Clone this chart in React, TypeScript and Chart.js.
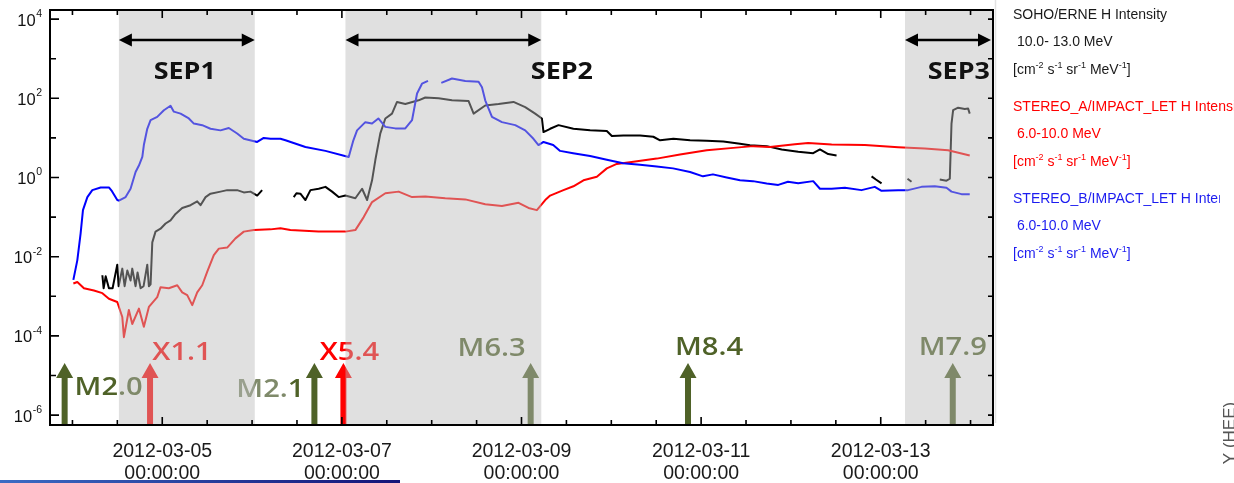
import React, { useEffect, useRef } from 'react';
import { Chart, registerables } from 'chart.js';

Chart.register(...registerables);

// Time axis in days since 2012-03-03 00:00 UT
const X_MIN = 0.75;
const X_MAX = 11.25;
const dateTickDays = [2, 4, 6, 8, 10];
const dateTickLabels = ['2012-03-05', '2012-03-07', '2012-03-09', '2012-03-11', '2012-03-13'];
const timeTickLabel = '00:00:00';
const minorTickDays = [1, 1.5, 2, 2.5, 3, 3.5, 4, 4.5, 5, 5.5, 6, 6.5, 7, 7.5, 8, 8.5, 9, 9.5, 10, 10.5, 11];
const yExponents = [-6, -4, -2, 0, 2, 4];
const yDecades = [-6, -5, -4, -3, -2, -1, 0, 1, 2, 3, 4];

// SOHO/ERNE H 10.0-13.0 MeV (null = data gap)
const sohoDays = [
  1.333, 1.347, 1.370, 1.406, 1.447, 1.499, 1.514, 1.555, 1.581, 1.611, 1.647, 1.666, 1.703, 1.725, 1.759, 1.792,
  1.833, 1.851, 1.870, 1.889, 1.925, 1.981, 2.037, 2.092, 2.148, 2.222, 2.315, 2.389, 2.426, 2.482, 2.537, 2.649,
  2.723, 2.834, 2.908, 2.982, 3.057, 3.112,
  3.29,
  3.464, 3.494, 3.538, 3.594, 3.650, 3.742, 3.817, 3.891, 3.964, 4.039, 4.150, 4.225, 4.281, 4.336, 4.373, 4.428,
  4.484, 4.558, 4.614, 4.706, 4.854, 4.929, 5.077, 5.226, 5.411, 5.467, 5.596, 5.744, 5.911, 6.041, 6.152, 6.227,
  6.245, 6.319, 6.412, 6.578, 6.764, 6.950, 7.006, 7.135, 7.320, 7.468, 7.543, 7.691, 7.877, 8.062, 8.247, 8.433,
  8.544, 8.730, 8.897, 9.081, 9.248, 9.323, 9.415, 9.508,
  9.7,
  9.898, 9.946, 10.009,
  10.15,
  10.298, 10.343,
  10.5,
  10.657, 10.732, 10.769, 10.788, 10.806, 10.862, 10.936, 10.973, 10.991,
];
const sohoFlux = [
  3.4e-3, 1.6e-3, 3.2e-3, 1.6e-3, 1.6e-3, 6.3e-3, 1.8e-3, 5e-3, 1.8e-3, 4.5e-3, 2.5e-3, 5e-3, 1.8e-3, 4e-3, 1.6e-3, 1.8e-3,
  6.3e-3, 1.8e-3, 2.0e-3, 2.3e-2, 4.3e-2, 5.1e-2, 6.9e-2, 8.3e-2, 0.12, 0.17, 0.20, 0.25, 0.20, 0.32, 0.39, 0.44,
  0.48, 0.48, 0.42, 0.44, 0.35, 0.48,
  null,
  0.32, 0.40, 0.39, 0.27, 0.48, 0.52, 0.58, 0.44, 0.32, 0.35, 0.30, 0.52, 0.27, 0.85, 2.8, 13,
  31, 41, 81, 72, 89, 105, 100, 89, 85, 41, 66, 72, 81, 60, 41, 31,
  14, 17, 21, 17, 15.5, 15, 11.2, 11.5, 11.5, 10.7, 8.7, 9.5, 8.7, 8.5, 8.1, 7.1,
  6.5, 6.2, 5.1, 4.5, 4.1, 5.1, 3.9, 3.6,
  null,
  1.07, 0.89, 0.71,
  null,
  0.93, 0.78,
  null,
  0.89, 0.83, 0.93, 23, 50, 58, 54, 55, 41,
];

// STEREO-A/IMPACT LET H 6.0-10.0 MeV
const staDays = [
  1.010, 1.054, 1.128, 1.239, 1.333, 1.406, 1.499, 1.555, 1.573, 1.628, 1.666, 1.740, 1.795, 1.851, 1.944, 1.981,
  2.073, 2.167, 2.222, 2.278, 2.334, 2.389, 2.445, 2.501, 2.574, 2.630, 2.723, 2.815, 2.908, 3.019, 3.205, 3.316,
  3.427, 3.739, 4.039, 4.150, 4.243, 4.336, 4.484, 4.632, 4.781, 4.929, 5.151, 5.374, 5.596, 5.782, 5.967, 6.078,
  6.171, 6.264, 6.319, 6.467, 6.578, 6.690, 6.839, 6.950, 7.061, 7.246, 7.506, 7.765, 8.062, 8.358, 8.581, 8.766,
  9.044, 9.192, 9.453, 9.823, 10.194, 10.491, 10.750, 10.991,
];
const staFlux = [
  2.1e-3, 2.3e-3, 1.6e-3, 1.4e-3, 1.2e-3, 8.7e-4, 7.2e-4, 3.0e-4, 9.3e-5, 4.5e-4, 2.0e-4, 4.9e-4, 1.7e-4, 5.4e-4, 9.5e-4, 1.7e-3,
  1.6e-3, 1.9e-3, 1.26e-3, 1.07e-3, 6.0e-4, 1.26e-3, 1.9e-3, 4.2e-3, 1.1e-2, 1.6e-2, 1.7e-2, 2.9e-2, 4.3e-2, 4.7e-2, 4.9e-2, 5.2e-2,
  4.7e-2, 4.3e-2, 4.3e-2, 4.7e-2, 0.10, 0.24, 0.40, 0.44, 0.32, 0.33, 0.30, 0.28, 0.21, 0.19, 0.23, 0.17,
  0.15, 0.27, 0.35, 0.48, 0.60, 0.85, 1.05, 1.7, 2.2, 2.5, 3.0, 3.8, 4.9, 5.6, 6.2, 5.9,
  6.9, 7.4, 6.8, 6.6, 5.8, 5.4, 4.9, 3.6,
];

// STEREO-B/IMPACT LET H 6.0-10.0 MeV
const stbDays = [
  1.010, 1.054, 1.091, 1.117, 1.166, 1.221, 1.314, 1.406, 1.440, 1.499, 1.517, 1.592, 1.647, 1.703, 1.740, 1.778,
  1.795, 1.833, 1.870, 1.944, 2.018, 2.092, 2.129, 2.204, 2.296, 2.352, 2.445, 2.537, 2.649, 2.741, 2.834, 2.908,
  3.057, 3.130, 3.205, 3.316, 3.372, 3.594, 3.817, 4.076, 4.128, 4.169, 4.261, 4.336, 4.406, 4.484, 4.595, 4.706,
  4.781, 4.837, 4.892, 4.959, 5.03, 5.107, 5.226, 5.374, 5.522, 5.560, 5.596, 5.671, 5.782, 5.930, 6.041, 6.133,
  6.189, 6.245, 6.353, 6.430, 6.575, 6.764, 6.950, 7.131, 7.320, 7.506, 7.688, 7.877, 8.021, 8.132, 8.285, 8.433,
  8.577, 8.730, 8.859, 8.967, 9.081, 9.248, 9.323, 9.453, 9.601, 9.786, 9.934, 10.009, 10.194, 10.305, 10.454, 10.602,
  10.732, 10.788, 10.899, 10.991,
];
const stbFlux = [
  2.6e-3, 8.1e-3, 3.9e-2, 0.15, 0.32, 0.48, 0.56, 0.56, 0.45, 0.27, 0.26, 0.32, 0.52, 1.38, 2.0, 3.3,
  6.6, 17, 28, 34, 50, 65, 46, 41, 31, 23, 21, 17, 15.5, 17.8, 12.9, 9.5,
  7.9, 10, 9.5, 9.5, 8.7, 5.9, 4.7, 3.3, 8.7, 15.5, 25, 23, 31, 19, 17.4, 17.4,
  28, 132, 234, 275, null, 245, 316, 275, 263, 190, 89, 34, 25, 21, 15.5, 9.5,
  6.6, 7.9, 6.6, 4.7, 4.1, 3.5, 2.8, 2.3, 2.1, 1.9, 1.7, 1.38, 1.07, 1.2, 1.0, 0.85,
  0.81, 0.71, 0.65, 0.78, 0.72, 0.81, 0.52, 0.52, 0.55, 0.48, 0.58, 0.46, 0.48, 0.48, 0.58, 0.60,
  0.55, 0.44, 0.38, 0.38,
];

// SEP event intervals
const sepNames = ['SEP1', 'SEP2', 'SEP3'];
const sepStart = [1.517, 4.04, 10.27];
const sepEnd = [3.03, 6.22, 11.25];
const sepLabelDay = [2.25, 6.45, 10.87];

// Flares
const flareNames = ['M2.0', 'X1.1', 'M2.1', 'X5.4', 'M6.3', 'M8.4', 'M7.9'];
const flareDays = [0.913, 1.864, 3.694, 4.017, 6.102, 7.854, 10.802];

// Legend text
const seriesTitles = ['SOHO/ERNE H Intensity', 'STEREO_A/IMPACT_LET H Intensity', 'STEREO_B/IMPACT_LET H Intensity'];
const seriesBands = [' 10.0- 13.0 MeV', ' 6.0-10.0 MeV', ' 6.0-10.0 MeV'];
const seriesColors = ['#000000', '#ff0000', '#0000ff'];
const legendTextColors = ['#1a1a1a', '#ff0000', '#1c1cf0'];
const legendClipRight = [1234, 1234, 1220];

// Styling
const OLIVE = '#4f6228';
const OLIVE_FADED = '#7f8a6a';
const FLARE_RED = '#ff0000';
const SHADE = 'rgba(187,187,187,0.45)';
const LABEL_STRETCH = 1.12;
const flareLabelDx = [44, 32, -44, 6, -39, 21, 0];
const flareLabelDy = [-37, -72, -35, -72, -76, -77, -77];
const flareLabelFade = [0, 0, 3, 0, 0, 0, 0];

const xy = (days: number[], flux: (number | null)[]) => days.map((d, i) => ({ x: d, y: flux[i] }));

function drawUpArrow(ctx: CanvasRenderingContext2D, x: number, base: number, color: string) {
  const tip = base - 62;
  const headLen = 15;
  const shaft = 3;
  const head = 8.5;
  ctx.fillStyle = color;
  ctx.beginPath();
  ctx.moveTo(x - shaft, base);
  ctx.lineTo(x - shaft, tip + headLen);
  ctx.lineTo(x - head, tip + headLen);
  ctx.lineTo(x, tip);
  ctx.lineTo(x + head, tip + headLen);
  ctx.lineTo(x + shaft, tip + headLen);
  ctx.lineTo(x + shaft, base);
  ctx.closePath();
  ctx.fill();
}

function drawStretchedText(
  ctx: CanvasRenderingContext2D, text: string, cx: number, cy: number, font: string,
  color: string, fadeCount = 0,
) {
  ctx.save();
  ctx.font = font;
  ctx.textBaseline = 'middle';
  ctx.textAlign = 'left';
  const w = ctx.measureText(text).width * LABEL_STRETCH;
  ctx.translate(cx - w / 2, cy);
  ctx.scale(LABEL_STRETCH, 1);
  const head = text.slice(0, fadeCount);
  const tail = text.slice(fadeCount);
  if (head) {
    ctx.fillStyle = OLIVE_FADED;
    ctx.fillText(head, 0, 0);
  }
  ctx.fillStyle = color;
  ctx.fillText(tail, ctx.measureText(head).width, 0);
  ctx.restore();
}

function drawDoubleArrow(ctx: CanvasRenderingContext2D, x1: number, x2: number, y: number) {
  const hl = 13;
  const hh = 6.5;
  ctx.strokeStyle = '#000';
  ctx.lineWidth = 2.5;
  ctx.beginPath();
  ctx.moveTo(x1 + hl - 1, y);
  ctx.lineTo(x2 - hl + 1, y);
  ctx.stroke();
  ctx.fillStyle = '#000';
  ctx.beginPath();
  ctx.moveTo(x1, y);
  ctx.lineTo(x1 + hl, y - hh);
  ctx.lineTo(x1 + hl, y + hh);
  ctx.closePath();
  ctx.fill();
  ctx.beginPath();
  ctx.moveTo(x2, y);
  ctx.lineTo(x2 - hl, y - hh);
  ctx.lineTo(x2 - hl, y + hh);
  ctx.closePath();
  ctx.fill();
}

// Text pieces alternate normal / superscript
function drawWithSuperscripts(ctx: CanvasRenderingContext2D, parts: string[], x: number, y: number, size: number, supSize: number) {
  let cx = x;
  parts.forEach((p, i) => {
    const sup = i % 2 === 1;
    ctx.font = `${sup ? supSize : size}px "Liberation Sans", Arial, sans-serif`;
    ctx.fillText(p, cx, sup ? y - 5 : y);
    cx += ctx.measureText(p).width;
  });
}

const sepPlugin = {
  id: 'sepAnnotations',
  afterDatasetsDraw(chart: any) {
    const { ctx, chartArea: a, scales } = chart;
    const xs = scales.x;
    ctx.save();
    ctx.beginPath();
    ctx.rect(a.left, a.top, a.right - a.left, a.bottom - a.top);
    ctx.clip();

    // flare arrows and their class labels
    flareNames.forEach((name: string, i: number) => {
      const px = xs.getPixelForValue(flareDays[i]);
      const color = name[0] === 'X' ? FLARE_RED : OLIVE;
      drawUpArrow(ctx, px, a.bottom, color);
      drawStretchedText(ctx, name, px + flareLabelDx[i], a.bottom + flareLabelDy[i],
        '600 26px "Open Sans", sans-serif', color, flareLabelFade[i]);
    });

    // shaded SEP intervals
    ctx.fillStyle = SHADE;
    sepNames.forEach((_: string, i: number) => {
      const x1 = xs.getPixelForValue(sepStart[i]);
      const x2 = xs.getPixelForValue(sepEnd[i]);
      ctx.fillRect(x1, a.top, x2 - x1, a.bottom - a.top);
    });

    // SEP interval arrows and names
    sepNames.forEach((name: string, i: number) => {
      const x1 = xs.getPixelForValue(sepStart[i]);
      const x2 = Math.min(xs.getPixelForValue(sepEnd[i]), a.right - 2);
      drawDoubleArrow(ctx, x1, x2, a.top + 30);
      drawStretchedText(ctx, name, xs.getPixelForValue(sepLabelDay[i]), a.top + 62,
        'bold 24px "Open Sans", sans-serif', '#111');
    });
    ctx.restore();
  },
  afterDraw(chart: any) {
    const { ctx, chartArea: a, scales } = chart;
    const xs = scales.x;
    const ys = scales.y;
    ctx.save();

    // plot frame
    ctx.strokeStyle = '#000';
    ctx.lineWidth = 2;
    ctx.strokeRect(a.left, a.top, a.right - a.left, a.bottom - a.top);

    // ticks on all four sides, pointing inward
    ctx.lineWidth = 1.6;
    ctx.beginPath();
    yDecades.forEach((e) => {
      const py = ys.getPixelForValue(Math.pow(10, e));
      const len = e % 2 === 0 ? 9 : 6;
      ctx.moveTo(a.left, py);
      ctx.lineTo(a.left + len, py);
      ctx.moveTo(a.right, py);
      ctx.lineTo(a.right - 5, py);
    });
    minorTickDays.forEach((d) => {
      const px = xs.getPixelForValue(d);
      const len = dateTickDays.includes(d) ? 8 : 5;
      ctx.moveTo(px, a.bottom);
      ctx.lineTo(px, a.bottom - len);
      ctx.moveTo(px, a.top);
      ctx.lineTo(px, a.top + len);
    });
    ctx.stroke();

    // y tick labels: 10 with superscript exponent
    ctx.fillStyle = '#111';
    ctx.textBaseline = 'middle';
    ctx.textAlign = 'left';
    yExponents.forEach((e) => {
      const py = ys.getPixelForValue(Math.pow(10, e));
      ctx.font = '16.5px "Liberation Sans", Arial, sans-serif';
      const wBase = ctx.measureText('10').width;
      ctx.font = '10.5px "Liberation Sans", Arial, sans-serif';
      const exp = String(e);
      const wExp = ctx.measureText(exp).width;
      const right = a.left - 8;
      const start = right - wBase - wExp - 0.5;
      ctx.font = '16.5px "Liberation Sans", Arial, sans-serif';
      ctx.fillText('10', start, py + 2);
      ctx.font = '10.5px "Liberation Sans", Arial, sans-serif';
      ctx.fillText(exp, start + wBase + 0.5, py - 5);
    });

    // legend block
    const lx = 1013;
    seriesTitles.forEach((title, i) => {
      const y0 = 15 + i * 92;
      ctx.save();
      ctx.beginPath();
      ctx.rect(lx - 5, y0 - 12, legendClipRight[i] - lx + 5, 90);
      ctx.clip();
      ctx.fillStyle = legendTextColors[i];
      ctx.font = '14px "Liberation Sans", Arial, sans-serif';
      ctx.fillText(title, lx, y0);
      ctx.fillText(seriesBands[i], lx, y0 + 27.5);
      drawWithSuperscripts(ctx, ['[cm', '-2', ' s', '-1', ' sr', '-1', ' MeV', '-1', ']'], lx, y0 + 55.5, 14, 9);
      ctx.restore();
    });

    // thin separator right of the plot
    ctx.strokeStyle = '#e2e2e2';
    ctx.lineWidth = 1.5;
    ctx.beginPath();
    ctx.moveTo(995.5, 0);
    ctx.lineTo(995.5, 423);
    ctx.stroke();

    // rotated coordinate-system caption at the right edge
    ctx.save();
    ctx.translate(1235, 433);
    ctx.rotate(-Math.PI / 2);
    ctx.fillStyle = '#555';
    ctx.font = '17px "Liberation Sans", Arial, sans-serif';
    ctx.textAlign = 'center';
    ctx.textBaseline = 'alphabetic';
    ctx.fillText('Y (HEE)', 0, 0);
    ctx.restore();

    // bottom rule
    const g = ctx.createLinearGradient(0, 0, 400, 0);
    g.addColorStop(0, '#3b6cc4');
    g.addColorStop(1, '#141478');
    ctx.fillStyle = g;
    ctx.fillRect(0, 480, 400, 3);

    ctx.restore();
  },
};

export default function App() {
  const ref = useRef<HTMLCanvasElement>(null);

  useEffect(() => {
    const canvas = ref.current;
    if (!canvas) return;
    const chart = new Chart(canvas, {
      type: 'line',
      data: {
        datasets: [
          { label: seriesTitles[2], data: xy(stbDays, stbFlux), borderColor: seriesColors[2] },
          { label: seriesTitles[1], data: xy(staDays, staFlux), borderColor: seriesColors[1] },
          { label: seriesTitles[0], data: xy(sohoDays, sohoFlux), borderColor: seriesColors[0] },
        ] as any,
      },
      options: {
        animation: false,
        responsive: false,
        devicePixelRatio: 1,
        spanGaps: false,
        layout: { padding: { top: 10, right: 241, left: 0, bottom: 0 } },
        elements: {
          point: { radius: 0 },
          line: { borderWidth: 2, tension: 0, fill: false, borderJoinStyle: 'round' },
        },
        plugins: { legend: { display: false }, tooltip: { enabled: false } },
        scales: {
          x: {
            type: 'linear',
            min: X_MIN,
            max: X_MAX,
            afterBuildTicks: (s: any) => {
              s.ticks = dateTickDays.map((v) => ({ value: v }));
            },
            afterFit: (s: any) => {
              s.height = 58;
            },
            grid: { display: false, drawTicks: false },
            border: { display: false },
            ticks: {
              autoSkip: false,
              maxRotation: 0,
              minRotation: 0,
              padding: 16,
              color: '#1a1a1a',
              font: { family: '"Liberation Sans", Arial, sans-serif', size: 19.5, lineHeight: 1.12 },
              callback: (v: any) => {
                const i = dateTickDays.indexOf(Number(v));
                return i >= 0 ? [dateTickLabels[i], timeTickLabel] : '';
              },
            },
          },
          y: {
            type: 'logarithmic',
            min: Math.pow(10, -6.25),
            max: Math.pow(10, 4.23),
            afterFit: (s: any) => {
              s.width = 50;
            },
            grid: { display: false, drawTicks: false },
            border: { display: false },
            ticks: { display: false },
          },
        },
      } as any,
      plugins: [sepPlugin],
    });
    return () => chart.destroy();
  }, []);

  return (
    <div style={{ position: 'absolute', left: 0, top: 0, width: 1234, height: 483, background: '#fff' }}>
      <canvas ref={ref} width={1234} height={483} style={{ width: 1234, height: 483, display: 'block' }} />
    </div>
  );
}
